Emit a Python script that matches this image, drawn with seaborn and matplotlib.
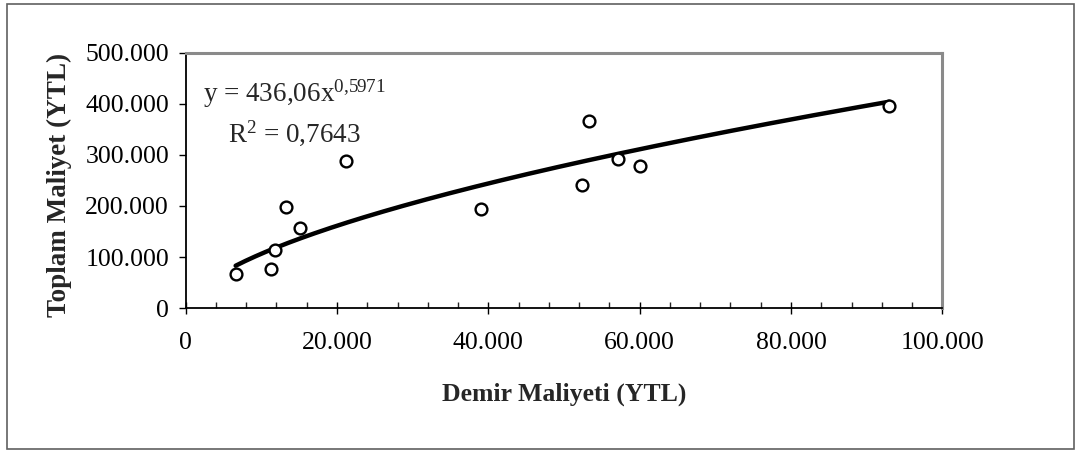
import numpy as np
import pandas as pd
import seaborn as sns
import matplotlib
matplotlib.use("Agg")
import matplotlib.pyplot as plt
from matplotlib.ticker import MultipleLocator, FuncFormatter
from matplotlib.patches import Rectangle

# ---- data ----
demir = [6600, 11250, 11850, 13300, 15100, 21200, 39000, 52400, 53300, 57100, 60000, 93000]
toplam = [67000, 77000, 114000, 198000, 156000, 288000, 194000, 241000, 367000, 292000, 278000, 395000]
trend_a = 436.06          # power trendline shown on chart: y = a * x^b
trend_b = 0.5971
trend_x_start = 6600
trend_x_end = 93000
x_ticks = [0, 20000, 40000, 60000, 80000, 100000]
y_ticks = [0, 100000, 200000, 300000, 400000, 500000]
eq_text = "y = 436,06x$^{0{,}5971}$"
r2_text = "R$^{2}$ = 0,7643"
xlabel = "Demir Maliyeti (YTL)"
ylabel = "Toplam Maliyet (YTL)"

sns.set_theme(style="white")
plt.rcParams['font.family'] = ['Liberation Serif', 'DejaVu Serif']
plt.rcParams['mathtext.fontset'] = 'custom'
plt.rcParams['mathtext.rm'] = 'Liberation Serif'
plt.rcParams['mathtext.it'] = 'Liberation Serif'
plt.rcParams['mathtext.default'] = 'regular'

fig = plt.figure(figsize=(10.75, 4.5), dpi=100)
fig.patch.set_facecolor('white')
fig.patches.append(Rectangle((7/1075, 1/450), (1073.5-7)/1075, (446-1)/450,
                             transform=fig.transFigure, fill=False,
                             edgecolor='#606060', linewidth=1.2))

ax = fig.add_axes([185.7/1075, 1-308.3/450, (942.3-185.7)/1075, (308.3-52.5)/450])

df = pd.DataFrame({"demir": demir, "toplam": toplam})
tx = np.linspace(trend_x_start, trend_x_end, 200)
trend = pd.DataFrame({"x": tx, "y": trend_a * tx ** trend_b})

sns.lineplot(data=trend, x="x", y="y", ax=ax, color='black', linewidth=3.2, zorder=2)
sns.scatterplot(data=df, x="demir", y="toplam", ax=ax, marker='o', s=72,
                facecolor='white', edgecolor='black', linewidth=1.7, zorder=3)

ax.set_xlim(0, 100000)
ax.set_ylim(0, 500000)
ax.set_xticks(x_ticks)
ax.set_yticks(y_ticks)
fmt = FuncFormatter(lambda v, p: "0" if v == 0 else f"{int(v):,}".replace(",", "."))
ax.xaxis.set_major_formatter(fmt)
ax.yaxis.set_major_formatter(fmt)
ax.xaxis.set_minor_locator(MultipleLocator(4000))

ax.tick_params(axis='x', which='major', direction='inout', length=8.5, width=1.0,
               pad=13, labelsize=18.5, colors='black', bottom=True)
ax.tick_params(axis='x', which='minor', direction='in', length=4, width=1.0, bottom=True)
ax.tick_params(axis='y', which='major', direction='out', length=5, width=1.0,
               pad=7, labelsize=18.5, colors='black', left=True)

for s in ['left', 'bottom']:
    ax.spines[s].set_color('black')
    ax.spines[s].set_linewidth(1.3)
for s in ['top', 'right']:
    ax.spines[s].set_color('#8a8a8a')
    ax.spines[s].set_linewidth(2.2)

ax.set_xlabel(xlabel, fontsize=18.5, fontweight='bold', va='center')
ax.xaxis.set_label_coords(0.5, (308.3-394)/255.8)
ax.set_ylabel(ylabel, fontsize=19.5, fontweight='bold', va='center')
ax.yaxis.set_label_coords((59-185.7)/756.6, (308.3-185)/255.8)

ax.text(0.0229, 0.8077, eq_text, transform=ax.transAxes, fontsize=19.5, va='baseline', ha='left')
ax.text(0.0559, 0.651, r2_text, transform=ax.transAxes, fontsize=19.5, va='baseline', ha='left')

fig.savefig("out.png", dpi=100, facecolor='white')
